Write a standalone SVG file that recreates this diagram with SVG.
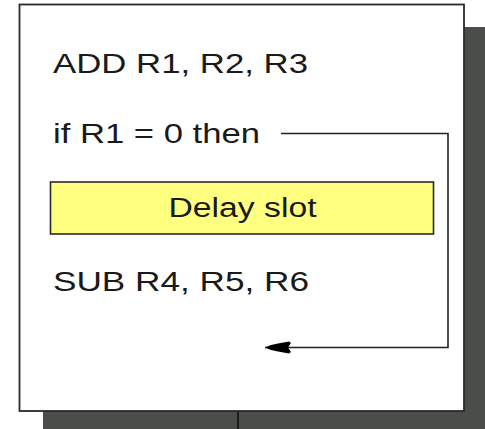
<svg xmlns="http://www.w3.org/2000/svg" width="485" height="429" viewBox="0 0 485 429">
  <style>
    .code { font-family: "Liberation Sans", Arial, sans-serif; font-size: 28px; fill: #1a1a1a; }
    .slot-label { font-family: "Liberation Sans", Arial, sans-serif; font-size: 27px; fill: #1a1a1a; }
    .frame { fill: #ffffff; stroke: #2a2a2a; stroke-width: 1.8; }
    .slot { fill: #ffff80; stroke: #2a2a2a; stroke-width: 1.6; }
    .link { fill: none; stroke: #222222; stroke-width: 1.6; }
  </style>
  <defs>
    <marker id="arrow" markerUnits="userSpaceOnUse" markerWidth="30" markerHeight="14" refX="26" refY="6" orient="auto" overflow="visible">
      <path d="M26,6 L20,3.5 L13,2 L2,0 L0,1.5 L3,6 L0,10.5 L2,12 L13,10 L20,8.5 Z" fill="#000000"/>
    </marker>
  </defs>

  <!-- drop shadow behind the frame -->
  <g id="shadow">
    <rect x="43" y="27" width="442" height="402" fill="#4b4d49"/>
    <line x1="238" y1="412" x2="238" y2="429" stroke="#111111" stroke-width="1.6"/>
  </g>

  <!-- main frame -->
  <g id="frame">
    <rect class="frame" x="19.5" y="4.5" width="444.5" height="406.5"/>
  </g>

  <g id="add">
    <text class="code" x="53" y="73" textLength="255" lengthAdjust="spacingAndGlyphs">ADD R1, R2, R3</text>
  </g>

  <g id="branch">
    <text class="code" x="53" y="143" textLength="207" lengthAdjust="spacingAndGlyphs">if R1 = 0 then</text>
  </g>

  <g id="delay-slot">
    <rect class="slot" x="50.5" y="182" width="383" height="52"/>
    <text class="slot-label" x="168.5" y="216.5" textLength="148" lengthAdjust="spacingAndGlyphs">Delay slot</text>
  </g>

  <g id="sub">
    <text class="code" x="53" y="291" textLength="256" lengthAdjust="spacingAndGlyphs">SUB R4, R5, R6</text>
  </g>

  <!-- branch target connector -->
  <g id="connectors">
    <path class="link" d="M281,133.5 H448 V347.5 H265" marker-end="url(#arrow)"/>
  </g>
</svg>
